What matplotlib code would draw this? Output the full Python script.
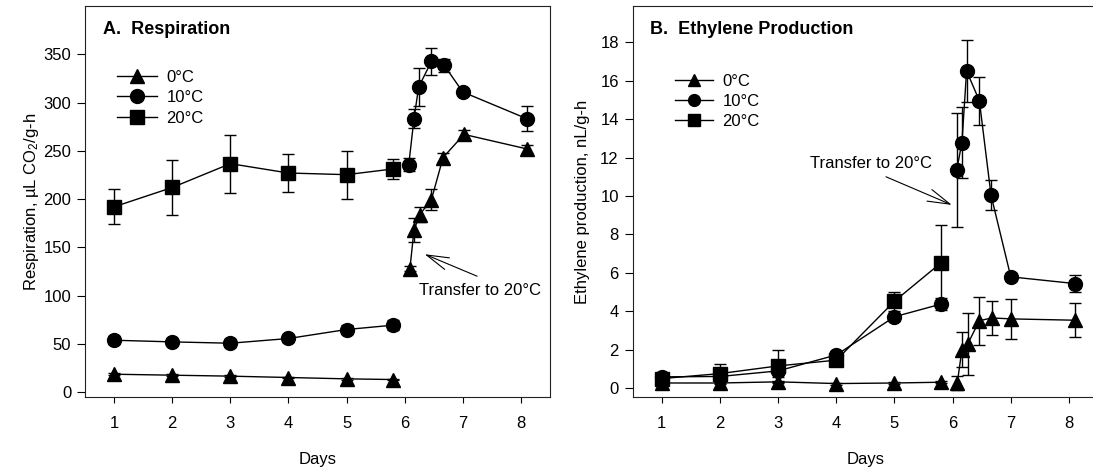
import matplotlib
matplotlib.use("Agg")
import matplotlib.pyplot as plt
from matplotlib.lines import Line2D

plt.rcParams["font.family"] = ["Liberation Sans", "DejaVu Sans"]
plt.rcParams["mathtext.fontset"] = "custom"
plt.rcParams["mathtext.rm"] = "Liberation Sans"
plt.rcParams["mathtext.it"] = "Liberation Sans:italic"

# days during storage (0, 10, 20 C) and after transfer to 20 C
store_days = [1, 2, 3, 4, 5, 5.8]

# A. Respiration, uL CO2/g-h
resp_0c = [18.6, 17.6, 16.6, 15.2, 13.8, 13.1]
resp_0c_err = [1, 1, 1, 1, 1, 1]
resp_10c = [53.8, 52.1, 50.7, 55.6, 64.9, 69.4]
resp_10c_err = [4, 3, 4, 4, 5, 5]
resp_20c = [192, 212, 236.7, 227, 225.3, 231.2]
resp_20c_err = [18, 28, 30, 20, 25, 10]

resp_0c_tr_days = [6.09, 6.16, 6.26, 6.46, 6.66, 7.02, 8.1]
resp_0c_tr = [128, 168, 184, 199.5, 243, 267, 252]
resp_0c_tr_err = [3, 12, 8, 11, 5, 5, 4]
resp_10c_tr_days = [6.07, 6.16, 6.24, 6.46, 6.68, 7.0, 8.1]
resp_10c_tr = [235.7, 283.3, 316, 342.6, 338.5, 310.9, 283.3]
resp_10c_tr_err = [7, 10, 20, 14, 7, 3, 13]

# B. Ethylene production, nL/g-h
eth_0c = [0.26, 0.26, 0.32, 0.23, 0.26, 0.3]
eth_0c_err = [0.05, 0.05, 0.05, 0.05, 0.05, 0.05]
eth_10c = [0.58, 0.6, 0.89, 1.72, 3.71, 4.37]
eth_10c_err = [0.1, 0.2, 0.3, 0.2, 0.2, 0.3]
eth_20c = [0.49, 0.75, 1.15, 1.45, 4.52, 6.52]
eth_20c_err = [0.1, 0.5, 0.85, 0.15, 0.5, 1.95]

eth_0c_tr_days = [6.08, 6.16, 6.26, 6.46, 6.67, 7.0, 8.1]
eth_0c_tr = [0.26, 2.0, 2.3, 3.5, 3.65, 3.6, 3.53]
eth_0c_tr_err = [0.35, 0.9, 1.6, 1.25, 0.9, 1.03, 0.9]
eth_10c_tr_days = [6.07, 6.16, 6.24, 6.46, 6.66, 7.0, 8.1]
eth_10c_tr = [11.36, 12.78, 16.52, 14.96, 10.05, 5.79, 5.44]
eth_10c_tr_err = [2.95, 1.85, 1.6, 1.26, 0.8, 0.2, 0.45]

labels = ["0°C", "10°C", "20°C"]
markers = ["^", "o", "s"]
FS = 12


def series(ax, x, y, err, marker):
    ax.errorbar(x, y, yerr=err, fmt="-", marker=marker, color="black",
                ms=10, lw=1, elinewidth=1, capsize=4.5, capthick=1)


def style_axes(ax, ylim, yticks):
    ax.set_xlim(0.5, 8.5)
    ax.set_ylim(*ylim)
    ax.set_xticks(range(1, 9))
    ax.set_yticks(yticks)
    ax.tick_params(axis="x", direction="out", length=4, width=0.8, pad=10, labelsize=FS)
    ax.tick_params(axis="y", direction="out", length=6, width=0.8, pad=4, labelsize=FS)
    for s in ax.spines.values():
        s.set_linewidth(0.8)
        s.set_color("#222222")
    ax.set_xlabel("Days", fontsize=FS, labelpad=15)


fig = plt.figure(figsize=(10.93, 4.68), dpi=100)
ax1 = fig.add_axes([0.0778, 0.1517, 0.4254, 0.8355])
ax2 = fig.add_axes([0.5789, 0.1517, 0.4257, 0.8355])

# panel A
series(ax1, store_days, resp_0c, resp_0c_err, "^")
series(ax1, store_days, resp_10c, resp_10c_err, "o")
series(ax1, store_days, resp_20c, resp_20c_err, "s")
series(ax1, resp_0c_tr_days, resp_0c_tr, resp_0c_tr_err, "^")
series(ax1, resp_10c_tr_days, resp_10c_tr, resp_10c_tr_err, "o")
style_axes(ax1, (-5, 400), range(0, 351, 50))
ax1.set_ylabel("Respiration, µL CO$_2$/g-h", fontsize=FS)
ax1.yaxis.set_label_coords(-0.095, 0.5)
ax1.text(0.038, 0.941, "A.  Respiration", transform=ax1.transAxes,
         fontsize=13, fontweight="bold", va="center")
ax1.annotate("", xy=(6.3, 144), xytext=(7.29, 119),
             arrowprops=dict(arrowstyle="->,head_length=1.6,head_width=0.45", lw=0.8))
ax1.text(6.25, 105.6, "Transfer to 20°C", fontsize=FS, va="center")

# panel B
series(ax2, store_days, eth_0c, eth_0c_err, "^")
series(ax2, store_days, eth_10c, eth_10c_err, "o")
series(ax2, store_days, eth_20c, eth_20c_err, "s")
series(ax2, eth_0c_tr_days, eth_0c_tr, eth_0c_tr_err, "^")
series(ax2, eth_10c_tr_days, eth_10c_tr, eth_10c_tr_err, "o")
style_axes(ax2, (-0.47, 19.9), range(0, 19, 2))
ax2.set_ylabel("Ethylene production, nL/g-h", fontsize=FS)
ax2.yaxis.set_label_coords(-0.092, 0.5)
ax2.text(0.037, 0.941, "B.  Ethylene Production", transform=ax2.transAxes,
         fontsize=13, fontweight="bold", va="center")
ax2.annotate("", xy=(6.03, 9.48), xytext=(4.81, 11.06),
             arrowprops=dict(arrowstyle="->,head_length=1.6,head_width=0.45", lw=0.8))
ax2.text(3.54, 11.7, "Transfer to 20°C", fontsize=FS, va="center")

for ax, ms, anchor, hl, sp in [(ax1, 10, (0.069, 0.837), 2.4, 0.33),
                               (ax2, 8.5, (0.091, 0.826), 2.3, 0.3)]:
    handles = [Line2D([], [], color="black", lw=1, marker=m, ms=ms) for m in markers]
    ax.legend(handles, labels, loc="upper left", bbox_to_anchor=anchor, frameon=False,
              fontsize=FS, handlelength=hl, handletextpad=0.55, labelspacing=sp,
              borderaxespad=0, borderpad=0)

fig.savefig("out.png", dpi=100)
